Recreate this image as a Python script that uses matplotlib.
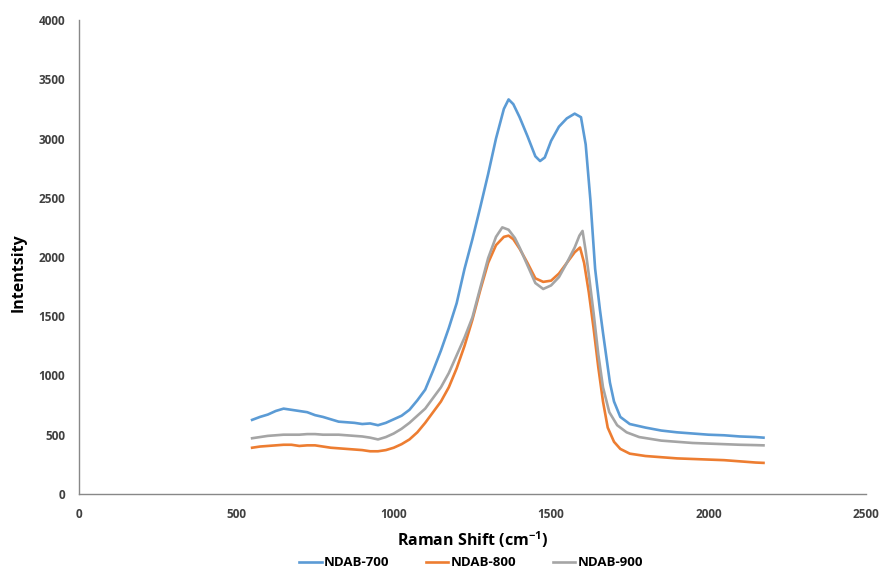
import matplotlib.pyplot as plt

# Raman spectra (x: Raman shift, y: intensity)
x700 = [550, 575, 600, 625, 650, 675, 700, 725, 750, 775, 800, 825, 850, 875, 900, 925, 950, 975,
        1000, 1025, 1050, 1075, 1100, 1125, 1150, 1175, 1200, 1225, 1250, 1275, 1300, 1325, 1350,
        1365, 1380, 1400, 1425, 1450, 1465, 1480, 1500, 1525, 1550, 1575, 1595, 1610, 1625, 1640,
        1655, 1665, 1687, 1700, 1720, 1750, 1800, 1850, 1900, 1950, 2000, 2050, 2100, 2150, 2175]
y700 = [625, 650, 670, 700, 720, 710, 700, 690, 665, 650, 630, 610, 605, 600, 590, 595, 580, 600,
        630, 660, 710, 790, 880, 1040, 1210, 1400, 1610, 1900, 2150, 2420, 2700, 3000, 3250,
        3330, 3290, 3180, 3020, 2850, 2810, 2840, 2980, 3100, 3170, 3210, 3180, 2950, 2480, 1900,
        1560, 1360, 940, 780, 650, 590, 560, 535, 520, 510, 500, 495, 485, 480, 475]

x800 = [550, 575, 600, 625, 650, 675, 700, 725, 750, 775, 800, 825, 850, 875, 900, 925, 950, 975,
        1000, 1025, 1050, 1075, 1100, 1125, 1150, 1175, 1200, 1225, 1250, 1275, 1300, 1325, 1350,
        1365, 1380, 1400, 1425, 1450, 1475, 1500, 1525, 1550, 1575, 1592, 1605, 1620, 1635, 1650,
        1665, 1680, 1700, 1720, 1750, 1800, 1850, 1900, 1950, 2000, 2050, 2100, 2150, 2175]
y800 = [390, 400, 405, 410, 415, 415, 405, 410, 410, 400, 390, 385, 380, 375, 370, 360, 360, 370,
        390, 420, 460, 520, 600, 690, 780, 900, 1060, 1250, 1470, 1720, 1950, 2100, 2170,
        2180, 2150, 2070, 1950, 1820, 1790, 1800, 1860, 1950, 2040, 2080, 1950, 1700, 1400, 1070,
        780, 560, 440, 380, 340, 320, 310, 300, 295, 290, 285, 275, 265, 262]

x900 = [550, 575, 600, 625, 650, 675, 700, 725, 750, 775, 800, 825, 850, 875, 900, 925, 950, 975,
        1000, 1025, 1050, 1075, 1100, 1125, 1150, 1175, 1200, 1225, 1250, 1275, 1300, 1325, 1345,
        1365, 1385, 1400, 1425, 1450, 1475, 1500, 1525, 1550, 1575, 1590, 1600, 1610, 1620, 1635,
        1650, 1665, 1685, 1710, 1740, 1780, 1850, 1900, 1950, 2000, 2050, 2100, 2150, 2175]
y900 = [470, 480, 490, 495, 500, 500, 500, 505, 505, 500, 500, 500, 495, 490, 485, 475, 460, 480,
        510, 550, 600, 660, 720, 810, 900, 1020, 1170, 1320, 1490, 1740, 1990, 2170, 2250,
        2230, 2160, 2080, 1930, 1780, 1730, 1760, 1830, 1950, 2080, 2180, 2220, 2050, 1850, 1530,
        1180, 900, 690, 580, 520, 480, 450, 440, 430, 425, 420, 415, 412, 410]

labels = ['NDAB-700', 'NDAB-800', 'NDAB-900']
colors = ['#5B9BD5', '#ED7D31', '#A5A5A5']

plt.rcParams['font.family'] = ['Open Sans', 'DejaVu Sans']
plt.rcParams['mathtext.default'] = 'regular'

fig = plt.figure(figsize=(8.82, 5.73), dpi=100)
ax = fig.add_axes([0.0896, 0.138, 0.892, 0.827])

for xs, ys, lab, c in zip([x700, x800, x900], [y700, y800, y900], labels, colors):
    ax.plot(xs, ys, color=c, lw=1.9, label=lab)

ax.set_xlim(0, 2500)
ax.set_ylim(0, 4000)
ax.set_xticks(range(0, 2501, 500))
ax.set_yticks(range(0, 4001, 500))
ax.tick_params(length=0, labelsize=8.5, pad=10)
for t in ax.get_xticklabels() + ax.get_yticklabels():
    t.set_fontweight('bold')
    t.set_color('#404040')

for s in ['top', 'right']:
    ax.spines[s].set_visible(False)
for s in ['left', 'bottom']:
    ax.spines[s].set_color('#888888')
    ax.spines[s].set_linewidth(1.0)

ax.set_xlabel('Raman Shift (cm$^{-1}$)', fontsize=11.5, fontweight='bold', labelpad=6)
ax.set_ylabel('Intentsity', fontsize=11.5, fontweight='bold')
ax.yaxis.set_label_coords(-0.066, 0.468)

fig.legend(loc='lower center', bbox_to_anchor=(0.534, -0.014), ncol=3, frameon=False,
           prop={'size': 9.5, 'weight': 'bold'}, handlelength=1.7, columnspacing=2.8,
           handletextpad=0.15)

fig.savefig('out.png', dpi=100)
